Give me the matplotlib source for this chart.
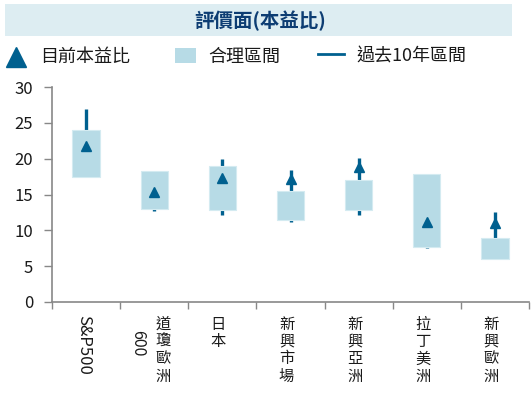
import matplotlib
matplotlib.use("Agg")
import matplotlib.pyplot as plt
from matplotlib.patches import Rectangle
from matplotlib.transforms import blended_transform_factory

plt.rcParams["font.family"] = ["Noto Sans CJK TC", "DejaVu Sans"]

# 資料
markets = ["S&P500", "道瓊歐洲600", "日本", "新興市場", "新興亞洲", "拉丁美洲", "新興歐洲"]
current_pe = [21.7, 15.4, 17.3, 17.1, 18.8, 11.1, 11.0]
fair_low = [17.5, 13.0, 12.9, 11.5, 12.9, 7.7, 6.0]
fair_high = [24.0, 18.3, 19.0, 15.5, 17.0, 17.8, 8.9]
hist_low = [17.5, 12.7, 12.1, 11.2, 12.1, 7.6, 6.0]
hist_high = [27.0, 18.3, 19.9, 18.4, 20.1, 17.8, 12.6]
yticks = [0, 5, 10, 15, 20, 25, 30]
legend_labels = ["目前本益比", "合理區間", "過去10年區間"]

DARK = "#00608f"
LIGHT = "#b7dbe6"
TXT = "#1a1a1a"

fig = plt.figure(figsize=(5.32, 3.93), dpi=100)
ax = fig.add_axes([52 / 532, 1 - 302 / 393, 477 / 532, 215 / 393])

x = list(range(len(markets)))
heights = [h - l for h, l in zip(fair_high, fair_low)]
ax.vlines(x, hist_low, hist_high, color=DARK, lw=2.4, zorder=1)
ax.bar(x, heights, bottom=fair_low, width=0.4, color=LIGHT, edgecolor="#d4ebf1", lw=0.8, zorder=2)
ax.plot(x, current_pe, "^", color=DARK, ms=7.5, zorder=3, ls="none")

ax.set_xlim(-0.5, len(markets) - 0.5)
ax.set_ylim(0, 30)
ax.set_yticks(yticks)
ax.set_xticks([i - 0.5 for i in range(len(markets) + 1)])
ax.set_xticklabels([])
ax.tick_params(axis="y", labelsize=12, colors="#888888", labelcolor=TXT, length=6, width=1, pad=7.5)
ax.tick_params(axis="x", colors="#888888", length=5, width=1)
for s in ["top", "right"]:
    ax.spines[s].set_visible(False)
for s in ["left", "bottom"]:
    ax.spines[s].set_color("#888888")
    ax.spines[s].set_linewidth(1.2)

# 類別標籤（直書）
tr = blended_transform_factory(ax.transData, ax.transAxes)
for i, name in enumerate(markets):
    if name == "S&P500":
        ax.text(i - 0.04, -0.06, name, rotation=270, transform=tr, ha="center", va="top",
                fontsize=12, color=TXT)
    elif name.endswith("600"):
        ax.text(i + 0.13, -0.065, "\n".join(name[:-3]), transform=tr, ha="center", va="top",
                fontsize=11, color=TXT, linespacing=1.02)
        ax.text(i - 0.25, -0.13, name[-3:], rotation=270, transform=tr, ha="center", va="top",
                fontsize=11.5, color=TXT)
    else:
        ax.text(i - 0.06, -0.065, "\n".join(name), transform=tr, ha="center", va="top",
                fontsize=11, color=TXT, linespacing=1.02)

# 標題與圖例（像素座標的覆蓋層）
ov = fig.add_axes([0, 0, 1, 1], zorder=-1)
ov.set_xlim(0, 532)
ov.set_ylim(393, 0)
ov.axis("off")
ov.add_patch(Rectangle((5, 4), 507, 32, color="#ddedf2", lw=0))
ov.text(260, 21, "評價面(本益比)", ha="center", va="center",
        fontsize=14, fontweight="bold", color="#0d3d73")

ov.plot([16], [57], "^", color=DARK, ms=14)
ov.add_patch(Rectangle((175, 48), 21, 15, color=LIGHT, lw=0))
ov.plot([318, 344], [54, 54], color=DARK, lw=2)
for lx, lab in zip([40, 208, 356], legend_labels):
    ov.text(lx, 57, lab, ha="left", va="center", fontsize=13, color=TXT)

fig.savefig("out.png", dpi=100)
